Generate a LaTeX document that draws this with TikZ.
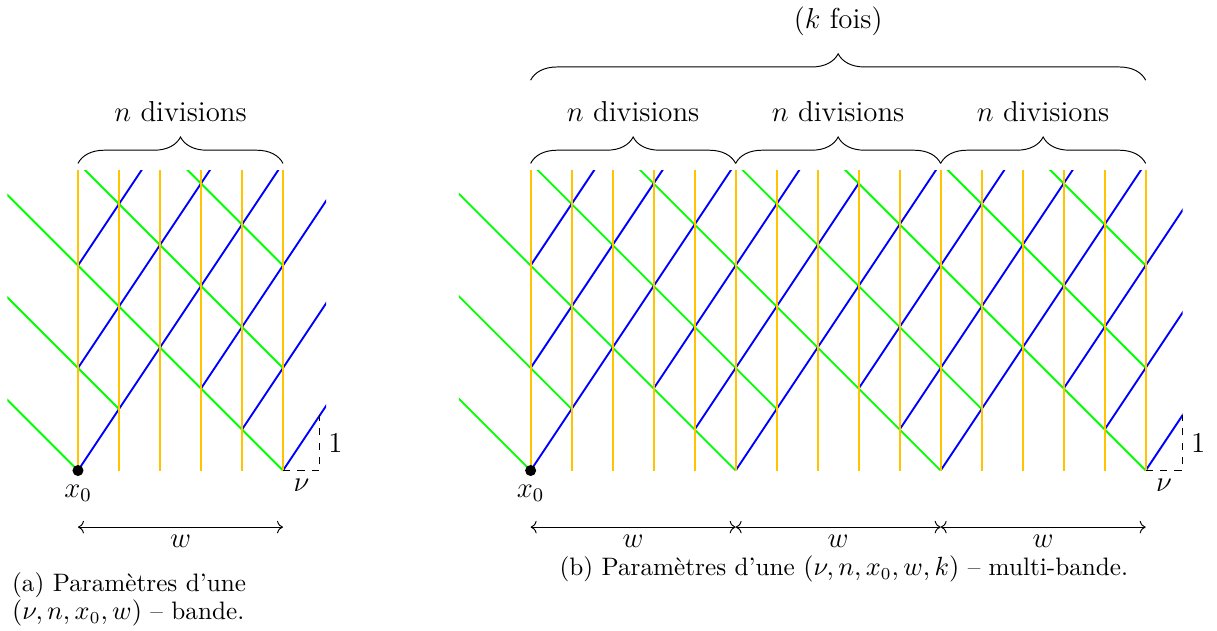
\documentclass[tikz,border=0pt]{standalone}
\usepackage{amsmath,amssymb}
\usepackage{fontspec}
\usetikzlibrary{positioning,arrows.meta,decorations.pathreplacing}
\definecolor{divcol}{RGB}{255,195,0}

\begin{document}
\begin{tikzpicture}[x=6mm,y=6mm,
  div/.style={draw=divcol,thick},
  montee/.style={draw=blue,thick},
  descente/.style={draw=green,thick},
  accol/.style={decorate,decoration={brace,amplitude=11pt}},
  lab/.style={font=\large},
  pt/.style={circle,fill,inner sep=0pt,minimum size=4.6pt},
  legende/.style={inner sep=0pt,align=left,font=\fontsize{10.5pt}{10.5pt}\selectfont}]
  \def\htop{7.32}
  \def\bx{11.04}
  \useasboundingbox (-1.902,-3.89) rectangle (27.78,11.476);
  %  -- - (a) bande  -- -
  \begin{scope}
    \clip (-1.72,-0.1) rectangle (6.05,\htop);
    \draw[descente] (-3,3) -- (0,0) (-3,5.5) -- (1,1.5) (-3,8) -- (5,0) (-1,8.5) -- (5,2.5) (1,9) -- (5,5);
    \draw[montee] (0,0) -- (6,9) (0,2.5) -- (4,8.5) (0,5) -- (2,8) (3,2) -- (7,8) (4,1) -- (7,5.5) (5,0) -- (7,3);
    \draw[div] (0,0) -- (0,9) (1,0) -- (1,9) (2,0) -- (2,9) (3,0) -- (3,9) (4,0) -- (4,9) (5,0) -- (5,9);
  \end{scope}
  \node[pt] (x0a) at (0,0) {};
  \coordinate (fa) at (5,0);
  \coordinate (nua) at (5.9,0);
  \coordinate (una) at (5.9,1.35);
  \node[lab, below=0pt of x0a] (x0la) {$x_0$};
  \draw[dashed] (fa) -- node[lab,below] (nula) {$\nu$} (nua) -- node[lab,right] (unla) {$1$} (una);
  \draw[accol] (0,7.49) -- node[lab,above=14pt] (nda) {$n$ divisions} (5,7.49);
  \coordinate (wa0) at (0,-1.38);
  \coordinate (wa1) at (5,-1.38);
  \draw[<->] (wa0) -- node[lab,below] (wla) {$w$} (wa1);
  \node[legende,anchor=north west] (lga) at (-1.617,-2.476) {(a) Paramètres d'une\\$(\nu,n,x_0,w)$ -- bande.};
  %  -- - (b) multi-bande  -- -
  \begin{scope}[shift={(\bx,0)}]
    \begin{scope}
      \clip (-1.75,-0.1) rectangle (15.9,\htop);
      \draw[descente] (-3,3) -- (0,0) (-3,5.5) -- (1,1.5) (-3,8) -- (5,0) (-1,8.5) -- (6,1.5) (1,9) -- (10,0)
        (4,8.5) -- (11,1.5) (6,9) -- (15,0) (9,8.5) -- (15,2.5) (11,9) -- (15,5);
      \draw[montee] (0,0) -- (6,9) (0,2.5) -- (4,8.5) (0,5) -- (2,8) (3,2) -- (7,8) (4,1) -- (8,7) (5,0) -- (11,9)
        (8,2) -- (12,8) (9,1) -- (14,8.5) (10,0) -- (16,9) (13,2) -- (17,8) (14,1) -- (17,5.5) (15,0) -- (17,3);
      \draw[div] (0,0) -- (0,9) (1,0) -- (1,9) (2,0) -- (2,9) (3,0) -- (3,9) (4,0) -- (4,9) (5,0) -- (5,9)
        (6,0) -- (6,9) (7,0) -- (7,9) (8,0) -- (8,9) (9,0) -- (9,9) (10,0) -- (10,9)
        (11,0) -- (11,9) (12,0) -- (12,9) (13,0) -- (13,9) (14,0) -- (14,9) (15,0) -- (15,9);
    \end{scope}
    \node[pt] (x0b) at (0,0) {};
    \coordinate (fb1) at (5,0);
    \coordinate (fb2) at (10,0);
    \coordinate (fb3) at (15,0);
    \coordinate (nub) at (15.9,0);
    \coordinate (unb) at (15.9,1.35);
    \node[lab, below=0pt of x0b] (x0lb) {$x_0$};
    \draw[dashed] (fb3) -- node[lab,below] (nulb) {$\nu$} (nub) -- node[lab,right] (unlb) {$1$} (unb);
    \draw[accol] (0,7.49) -- node[lab,above=14pt] (ndb1) {$n$ divisions} (5,7.49);
    \draw[accol] (5,7.49) -- node[lab,above=14pt] (ndb2) {$n$ divisions} (10,7.49);
    \draw[accol] (10,7.49) -- node[lab,above=14pt] (ndb3) {$n$ divisions} (15,7.49);
    \draw[accol] (0,9.52) -- node[lab,above=15pt] (kf) {($k$ fois)} (15,9.52);
    \coordinate (wb0) at (0,-1.38);
    \coordinate (wb1) at (5,-1.38);
    \coordinate (wb2) at (10,-1.38);
    \coordinate (wb3) at (15,-1.38);
    \draw[<->] (wb0) -- node[lab,below] (wlb1) {$w$} (wb1);
    \draw[<->] (wb1) -- node[lab,below] (wlb2) {$w$} (wb2);
    \draw[<->] (wb2) -- node[lab,below] (wlb3) {$w$} (wb3);
    \node[legende,anchor=base] (lgb) at (7.64,-2.55) {(b) Paramètres d'une $(\nu,n,x_0,w,k)$ -- multi-bande.};
  \end{scope}
\end{tikzpicture}
\end{document}
